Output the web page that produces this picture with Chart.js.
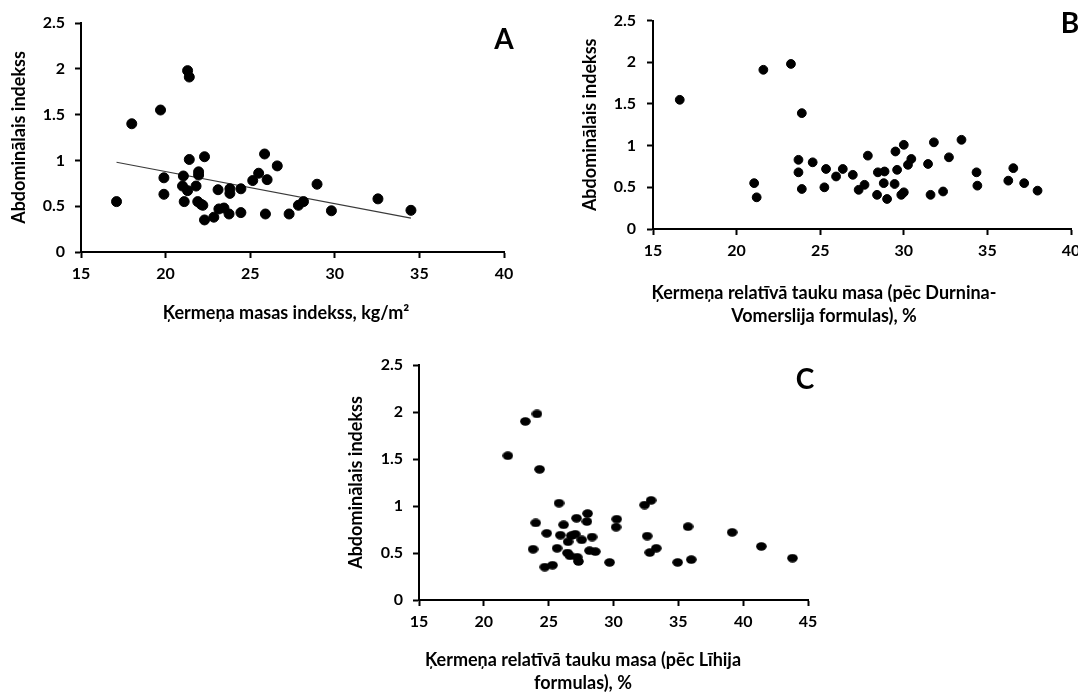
<!DOCTYPE html>
<html>
<head>
<meta charset="utf-8">
<script src="https://cdn.jsdelivr.net/npm/chart.js@4"></script>
<style>
  body { margin: 0; width: 1078px; height: 692px; overflow: hidden; background: #fff; position: relative; font-family: Lato, sans-serif; }
  canvas { position: absolute; }
  .lbl { position: absolute; font-weight: bold; color: #000; text-align: center; white-space: nowrap; }
  .xt { font-size: 18px; line-height: 23px; }
  .letter { font-size: 28px; line-height: 32px; }
</style>
</head>
<body>
<canvas id="chartA" width="540" height="330" style="left:0;top:0"></canvas>
<canvas id="chartB" width="560" height="330" style="left:540px;top:0"></canvas>
<canvas id="chartC" width="500" height="362" style="left:330px;top:330px"></canvas>

<div class="lbl letter" style="left:484px;top:22px;width:40px">A</div>
<div class="lbl letter" style="left:1050px;top:6px;width:40px">B</div>
<div class="lbl letter" style="left:785px;top:362px;width:40px">C</div>

<div class="lbl xt" style="left:86px;top:301px;width:400px">Ķermeņa masas indekss, kg/m²</div>
<div class="lbl xt" style="left:624px;top:281px;width:400px">Ķermeņa relatīvā tauku masa (pēc Durnina-<br>Vomerslija formulas), %</div>
<div class="lbl xt" style="left:383px;top:648px;width:400px">Ķermeņa relatīvā tauku masa (pēc Līhija<br>formulas), %</div>

<script>
// A: ķermeņa masas indekss
const aX = [17.1, 18.0, 19.7, 21.3, 21.4, 19.9, 19.9, 21.05, 21.0, 21.3, 21.1, 21.4, 22.3, 21.95, 21.95, 21.8, 21.9, 22.1, 22.2, 22.3, 22.85, 23.1, 23.15, 23.45, 23.75, 23.8, 23.8, 24.45, 24.45, 25.15, 25.5, 25.85, 26.0, 25.9, 26.6, 27.3, 27.85, 28.15, 28.95, 29.8, 32.55, 34.5];
const aY = [0.55, 1.40, 1.55, 1.98, 1.91, 0.81, 0.63, 0.83, 0.72, 0.67, 0.55, 1.01, 1.04, 0.875, 0.84, 0.72, 0.55, 0.52, 0.51, 0.35, 0.38, 0.68, 0.47, 0.48, 0.415, 0.69, 0.64, 0.69, 0.43, 0.78, 0.86, 1.07, 0.79, 0.415, 0.94, 0.415, 0.51, 0.55, 0.74, 0.45, 0.58, 0.455];
const trendX = [17.1, 34.5];
const trendY = [0.98, 0.37];

// B: pēc Durnina-Vomerslija
const bX = [16.6, 21.6, 23.25, 23.9, 21.05, 21.2, 23.7, 23.7, 23.9, 24.55, 25.25, 25.35, 25.95, 26.35, 26.95, 27.3, 27.65, 27.85, 28.4, 28.45, 28.85, 28.8, 29.0, 29.45, 29.5, 29.6, 29.85, 30.0, 30.0, 30.25, 30.45, 31.45, 31.6, 31.8, 32.35, 32.7, 33.45, 34.35, 34.4, 36.25, 36.55, 37.2, 38.0];
const bY = [1.55, 1.91, 1.98, 1.39, 0.55, 0.38, 0.83, 0.68, 0.48, 0.80, 0.50, 0.72, 0.63, 0.72, 0.65, 0.47, 0.53, 0.88, 0.41, 0.68, 0.69, 0.55, 0.36, 0.54, 0.93, 0.71, 0.41, 0.44, 1.01, 0.77, 0.84, 0.78, 0.41, 1.04, 0.45, 0.86, 1.07, 0.68, 0.52, 0.58, 0.73, 0.55, 0.46];

// C: pēc Līhija
const cX = [21.85, 23.2, 24.1, 24.3, 25.8, 24.0, 24.85, 23.8, 24.7, 25.3, 25.65, 25.9, 26.15, 26.5, 26.45, 26.65, 26.75, 27.05, 27.15, 27.2, 27.3, 27.55, 28.0, 27.95, 28.15, 28.35, 28.6, 29.7, 30.2, 30.25, 32.4, 32.9, 32.6, 32.8, 33.3, 34.95, 35.75, 36.0, 39.15, 41.4, 43.8];
const cY = [1.535, 1.90, 1.98, 1.39, 1.03, 0.82, 0.71, 0.54, 0.35, 0.37, 0.55, 0.69, 0.80, 0.62, 0.50, 0.47, 0.685, 0.70, 0.87, 0.455, 0.41, 0.64, 0.92, 0.835, 0.525, 0.67, 0.515, 0.40, 0.775, 0.86, 1.01, 1.06, 0.68, 0.505, 0.55, 0.40, 0.78, 0.43, 0.72, 0.57, 0.445];

const yTitle = 'Abdominālais indekss';
const tickFont = { family: 'Lato', weight: 'bold', size: 16 };
const titleFont = { family: 'Lato', weight: 'bold', size: 18 };

function pts(xs, ys) {
  return xs.map((x, i) => ({ x: x, y: ys[i] }));
}

function axisOpts(o) {
  return {
    grid: { drawOnChartArea: false, drawTicks: true, tickLength: 6, tickWidth: 2, tickColor: '#000', color: '#000' },
    border: { display: true, color: '#000', width: 2 },
    ticks: { color: '#000', font: tickFont, padding: o.pad, stepSize: o.step, maxRotation: 0, callback: v => String(v) },
    min: o.min,
    max: o.max,
    afterFit: o.fit
  };
}

function makeOptions(p) {
  const x = axisOpts({ pad: 6, step: 5, min: p.xMin, max: p.xMax, fit: s => { s.height = p.xh; } });
  x.type = 'linear';
  const y = axisOpts({ pad: p.yPad, step: 0.5, min: 0, max: 2.5, fit: s => { s.width = p.yw; } });
  y.title = { display: true, text: yTitle, color: '#000', font: titleFont, padding: { top: p.tp, bottom: 0 } };
  return {
    responsive: false,
    animation: false,
    layout: { padding: { left: 0, top: p.top, right: p.right, bottom: 0 } },
    plugins: { legend: { display: false }, tooltip: { enabled: false } },
    scales: { x: x, y: y }
  };
}

// elliptical dot for C (panel is stretched sideways)
const dot = document.createElement('canvas');
dot.width = 11;
dot.height = 9;
const g = dot.getContext('2d');
g.fillStyle = '#000';
g.beginPath();
g.ellipse(5.5, 4.5, 5.3, 4.2, 0, 0, Math.PI * 2);
g.fill();

new Chart(document.getElementById('chartA'), {
  type: 'scatter',
  data: {
    datasets: [
      { data: pts(aX, aY), backgroundColor: '#000', borderColor: '#000', pointRadius: 5, pointHoverRadius: 5 },
      { type: 'line', data: pts(trendX, trendY), borderColor: '#3a3a3a', borderWidth: 1.2, pointRadius: 0, fill: false }
    ]
  },
  options: makeOptions({ xMin: 15, xMax: 40, top: 23, right: 36, xh: 78, yw: 81, yPad: 10, tp: 8 })
});

new Chart(document.getElementById('chartB'), {
  type: 'scatter',
  data: {
    datasets: [
      { data: pts(bX, bY), backgroundColor: '#000', borderColor: '#000', pointRadius: 4.4, pointHoverRadius: 4.4 }
    ]
  },
  options: makeOptions({ xMin: 15, xMax: 40, top: 15, right: 29, xh: 101, yw: 113, yPad: 11, tp: 39 })
});

new Chart(document.getElementById('chartC'), {
  type: 'scatter',
  data: {
    datasets: [
      { data: pts(cX, cY), backgroundColor: '#000', borderColor: '#000', pointStyle: dot, pointRadius: 5, pointHoverRadius: 5 }
    ]
  },
  options: makeOptions({ xMin: 15, xMax: 45, top: 35, right: 22, xh: 92, yw: 89, yPad: 10, tp: 15 })
});
</script>
</body>
</html>
